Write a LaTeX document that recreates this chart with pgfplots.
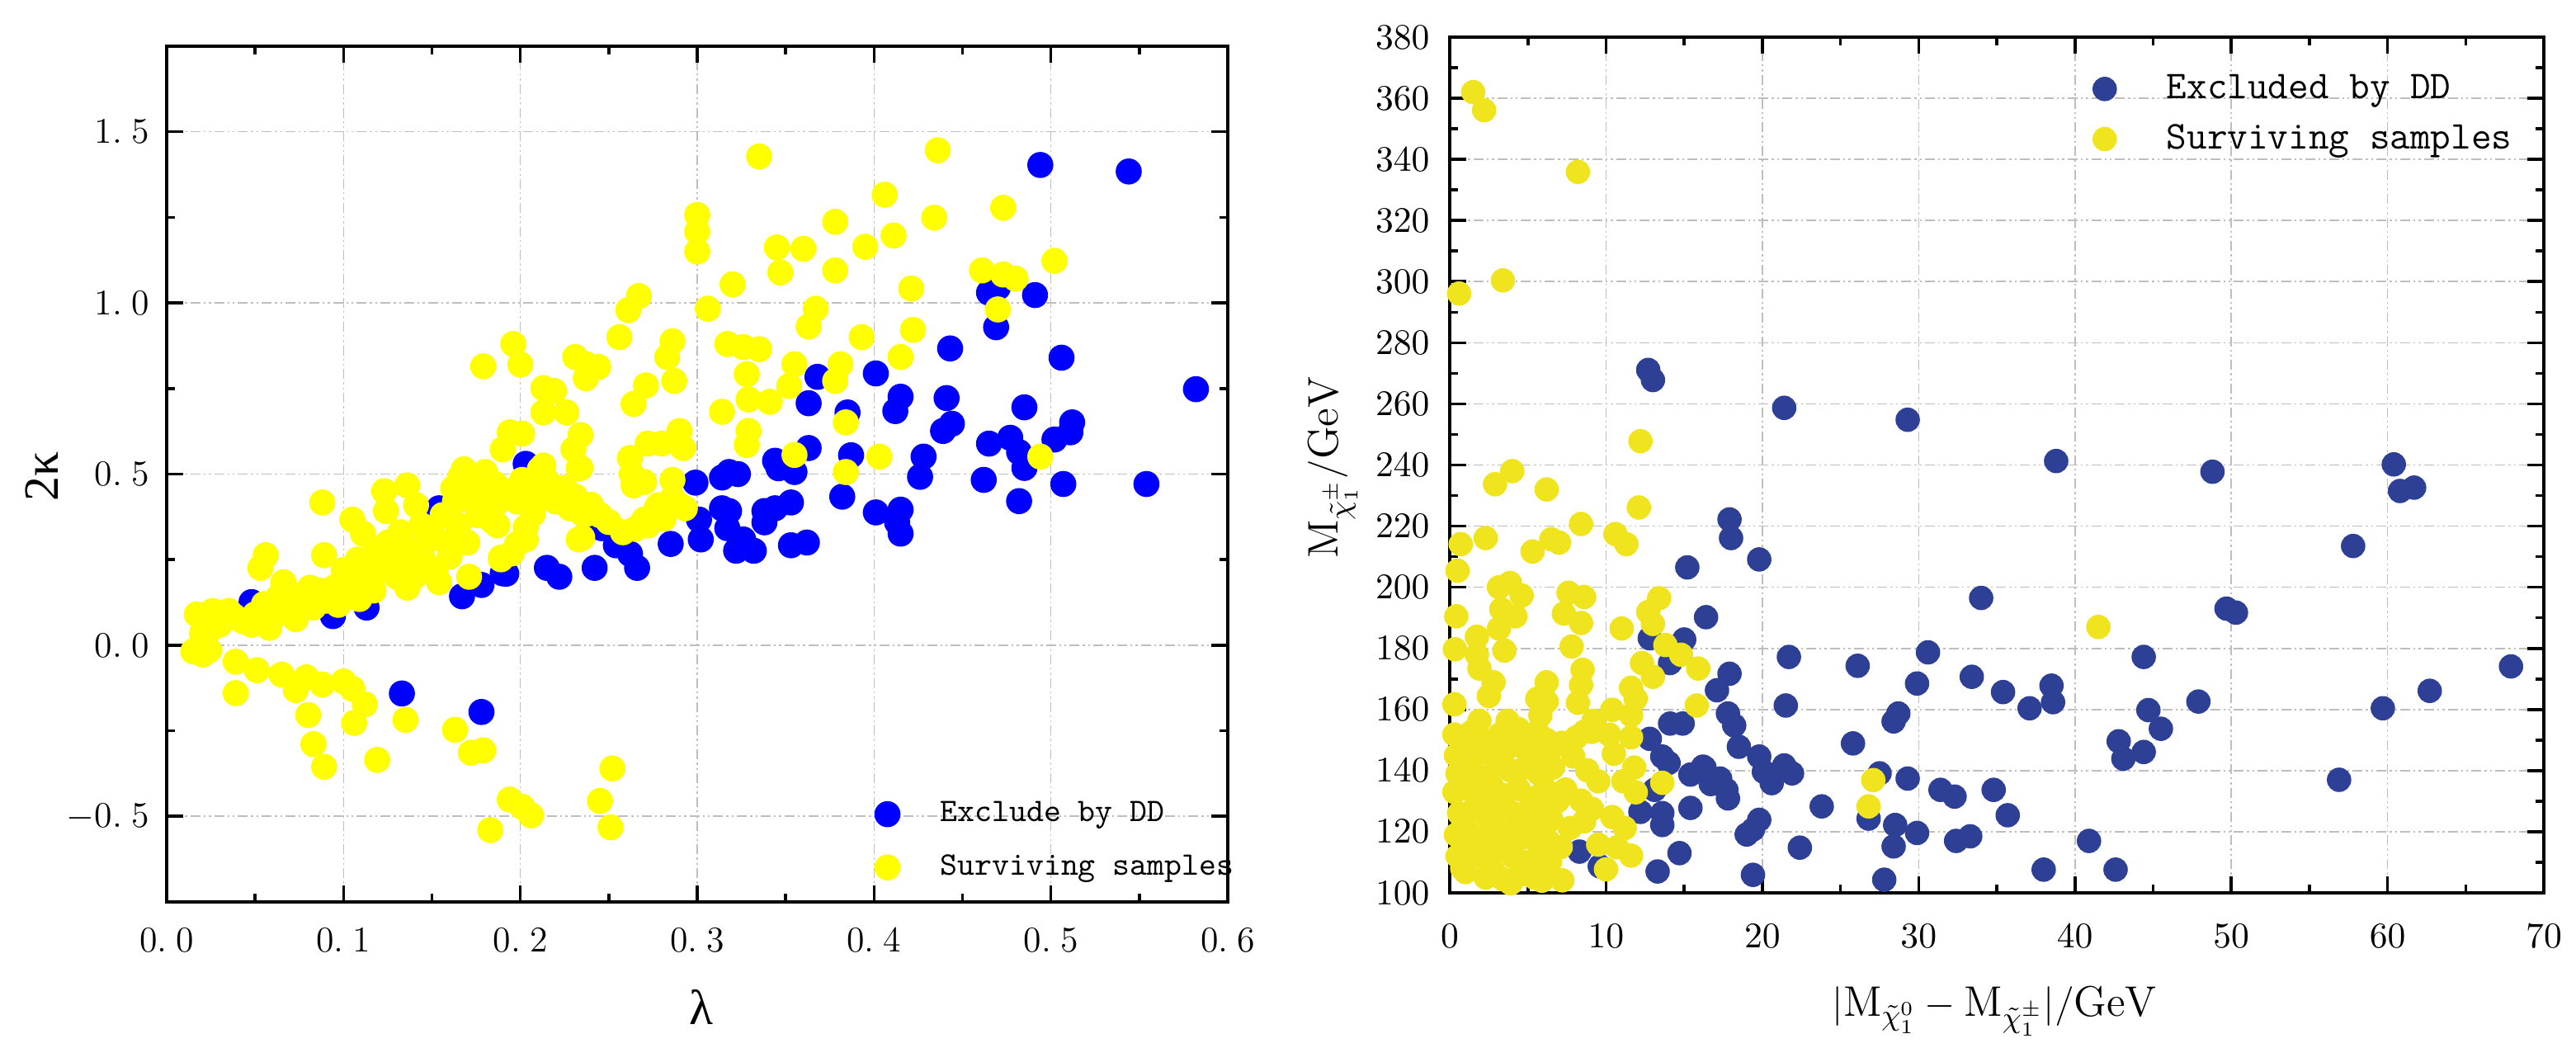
\documentclass[border=0pt]{standalone}
\usepackage{fontspec}
\newfontfamily\lserif{Liberation Serif}
\usepackage{pgfplots}
\pgfplotsset{compat=1.18}
\definecolor{lblue}{RGB}{0,0,255}
\definecolor{lyellow}{RGB}{255,255,0}
\definecolor{rblue}{RGB}{46,64,150}
\definecolor{ryellow}{RGB}{240,228,30}
\definecolor{gridgray}{RGB}{190,190,190}
\pgfplotsset{
 myaxis/.style={
  scale only axis,
  axis line style={line width=0.9bp},
  every tick/.style={black, line width=0.9bp},
  major tick length=5bp,
  minor tick length=2.5bp,
  tick align=inside,
  grid=major,
  major grid style={gridgray, line width=0.4bp, dash pattern=on 3bp off 1bp on 0.6bp off 1bp on 0.6bp off 1bp},
  minor tick num=1,
  tick label style={font=\fontsize{11}{13}\selectfont},
  legend cell align=left,
  legend image code/.code={\draw[##1] plot coordinates {(0bp,0bp)};},
 }
}
\begin{document}
\begin{tikzpicture}
\useasboundingbox (0,0) rectangle (780.5bp,317.5bp);
% ---------------- left panel ----------------
\begin{axis}[myaxis, at={(50.5bp,44.25bp)}, anchor=south west,
 width=321.5bp, height=259.25bp,
 xmin=0, xmax=0.6, ymin=-0.75, ymax=1.75,
 xtick={0,0.1,0.2,0.3,0.4,0.5,0.6},
 xticklabels={0.\hspace{0.25em}0,0.\hspace{0.25em}1,0.\hspace{0.25em}2,0.\hspace{0.25em}3,0.\hspace{0.25em}4,0.\hspace{0.25em}5,0.\hspace{0.25em}6},
 ytick={-0.5,0,0.5,1,1.5},
 yticklabels={$-$0.\hspace{0.25em}5,0.\hspace{0.25em}0,0.\hspace{0.25em}5,1.\hspace{0.25em}0,1.\hspace{0.25em}5},
 xticklabel style={yshift=-4.3bp}, yticklabel style={xshift=-1.8bp},
 xlabel={{\lserif λ}}, ylabel={{\lserif 2κ}},
 x label style={at={(axis description cs:0.504,-0.123)}, anchor=center, font=\fontsize{15}{17}\selectfont},
 y label style={at={(axis description cs:-0.118,0.497)}, anchor=center, font=\fontsize{15}{17}\selectfont},
 legend style={at={(axis description cs:0.667,0.0713)}, anchor=west, draw=none, fill=none,
   inner sep=0pt, row sep=8.5bp, font=\ttfamily\fontsize{10}{12}\selectfont,
   nodes={inner sep=0pt}, /tikz/every odd column/.append style={column sep=12.25bp}},
]
\addplot[only marks, mark=*, mark size=3.75bp, color=lblue] coordinates {
(0.494,1.403)(0.544,1.384)(0.465,1.030)(0.470,1.045)(0.491,1.023)(0.469,0.929)(0.443,0.867)(0.506,0.840)
(0.582,0.748)(0.401,0.794)(0.368,0.784)(0.363,0.707)(0.385,0.680)(0.415,0.726)(0.412,0.684)(0.441,0.722)
(0.485,0.695)(0.444,0.647)(0.439,0.626)(0.512,0.651)(0.511,0.622)(0.502,0.601)(0.465,0.589)(0.477,0.606)
(0.482,0.564)(0.485,0.518)(0.428,0.551)(0.387,0.555)(0.363,0.576)(0.345,0.531)(0.355,0.506)(0.318,0.506)
(0.462,0.483)(0.507,0.471)(0.554,0.471)(0.314,0.400)(0.318,0.392)(0.317,0.342)(0.326,0.309)(0.322,0.276)
(0.332,0.276)(0.338,0.392)(0.344,0.400)(0.353,0.417)(0.338,0.359)(0.353,0.292)(0.362,0.300)(0.346,0.517)
(0.382,0.434)(0.401,0.388)(0.415,0.396)(0.413,0.359)(0.415,0.326)(0.426,0.492)(0.482,0.421)(0.323,0.500)
(0.314,0.490)(0.344,0.539)(0.048,0.126)(0.094,0.085)(0.113,0.110)(0.154,0.400)(0.167,0.143)(0.178,0.176)
(0.190,0.210)(0.192,0.209)(0.215,0.226)(0.222,0.200)(0.242,0.226)(0.246,0.342)(0.254,0.292)(0.262,0.267)
(0.266,0.226)(0.285,0.296)(0.299,0.475)(0.301,0.367)(0.302,0.309)(0.203,0.530)(0.133,-0.141)(0.178,-0.195)
};
\addlegendentry{Exclude by DD}
\addplot[only marks, mark=*, mark size=3.75bp, color=lyellow] coordinates {
(0.335,1.428)(0.436,1.446)(0.406,1.316)(0.473,1.278)(0.434,1.249)(0.378,1.237)(0.345,1.162)(0.360,1.158)
(0.395,1.164)(0.411,1.197)(0.347,1.089)(0.378,1.095)(0.320,1.054)(0.421,1.042)(0.461,1.095)(0.473,1.083)
(0.480,1.071)(0.502,1.123)(0.306,0.983)(0.367,0.983)(0.363,0.931)(0.470,0.981)(0.317,0.880)(0.326,0.871)
(0.335,0.865)(0.393,0.900)(0.422,0.921)(0.355,0.821)(0.328,0.792)(0.381,0.821)(0.378,0.772)(0.415,0.842)
(0.352,0.757)(0.329,0.718)(0.341,0.711)(0.314,0.682)(0.384,0.651)(0.329,0.626)(0.328,0.585)(0.355,0.556)
(0.403,0.551)(0.494,0.551)(0.384,0.506)
(0.300,1.257)(0.300,1.208)(0.300,1.150)(0.267,1.020)(0.261,0.979)(0.256,0.900)(0.286,0.888)(0.283,0.842)
(0.196,0.880)(0.179,0.815)(0.200,0.820)(0.231,0.842)(0.237,0.821)(0.244,0.813)(0.237,0.780)(0.287,0.772)
(0.271,0.759)(0.264,0.705)(0.213,0.751)(0.219,0.743)(0.213,0.680)(0.226,0.680)(0.194,0.622)(0.201,0.618)
(0.190,0.572)(0.234,0.614)(0.230,0.572)(0.234,0.518)(0.290,0.626)(0.292,0.576)(0.272,0.589)(0.280,0.589)
(0.262,0.547)(0.168,0.514)(0.180,0.506)(0.211,0.514)
(0.270,0.367)(0.278,0.409)(0.286,0.483)(0.264,0.467)(0.290,0.409)(0.277,0.400)(0.286,0.430)(0.293,0.400)
(0.281,0.370)(0.272,0.350)(0.265,0.340)(0.258,0.330)(0.263,0.500)(0.270,0.477)
(0.237,0.383)(0.235,0.314)(0.225,0.441)(0.207,0.383)(0.203,0.344)(0.198,0.295)(0.189,0.256)(0.184,0.363)(0.186,0.412)
(0.0204,-0.027)(0.024,-0.015)(0.015,-0.018)(0.023,0.085)(0.020,0.035)(0.024,0.043)(0.017,0.090)(0.026,0.100)
(0.038,0.085)(0.048,0.060)(0.058,0.051)(0.066,0.184)(0.075,0.118)(0.081,0.168)(0.073,0.076)(0.088,0.417)
(0.089,0.263)(0.056,0.263)(0.053,0.226)(0.106,0.209)(0.105,0.367)(0.111,0.326)(0.123,0.450)(0.136,0.467)
(0.124,0.392)(0.141,0.409)(0.146,0.300)(0.144,0.350)(0.128,0.263)(0.136,0.243)(0.136,0.168)(0.097,0.118)
(0.109,0.135)(0.117,0.160)(0.160,0.259)(0.154,0.184)(0.166,0.492)(0.162,0.458)(0.171,0.200)(0.182,0.483)
(0.175,0.409)(0.187,0.350)(0.201,0.483)(0.207,0.400)(0.213,0.525)(0.203,0.309)(0.189,0.251)(0.195,0.268)
(0.231,0.434)(0.235,0.384)(0.233,0.309)(0.233,0.517)
(0.030,0.060)(0.035,0.100)(0.043,0.070)(0.050,0.090)(0.055,0.120)(0.060,0.080)(0.063,0.140)(0.068,0.100)
(0.070,0.150)(0.078,0.130)(0.083,0.110)(0.086,0.160)(0.090,0.130)(0.095,0.170)(0.100,0.220)(0.102,0.140)
(0.108,0.250)(0.113,0.200)(0.118,0.280)(0.120,0.220)(0.125,0.300)(0.130,0.200)(0.132,0.330)(0.138,0.280)
(0.140,0.200)(0.145,0.250)(0.150,0.330)(0.152,0.220)(0.156,0.380)(0.158,0.300)(0.163,0.420)(0.165,0.350)
(0.168,0.440)(0.170,0.300)(0.173,0.460)(0.176,0.380)(0.180,0.440)(0.183,0.420)(0.186,0.470)(0.190,0.440)
(0.194,0.450)(0.198,0.420)(0.205,0.460)(0.210,0.440)(0.215,0.480)(0.220,0.420)(0.225,0.460)(0.228,0.400)
(0.240,0.410)(0.245,0.380)(0.250,0.360)
(0.039,-0.048)(0.039,-0.140)(0.051,-0.073)(0.065,-0.086)(0.073,-0.131)(0.079,-0.094)(0.088,-0.115)(0.100,-0.106)
(0.105,-0.127)(0.112,-0.173)(0.106,-0.227)(0.080,-0.204)(0.083,-0.289)(0.089,-0.355)(0.119,-0.335)(0.135,-0.218)
(0.163,-0.247)(0.172,-0.314)(0.179,-0.307)(0.194,-0.451)(0.201,-0.472)(0.206,-0.497)(0.183,-0.540)(0.252,-0.360)
(0.245,-0.455)(0.251,-0.532)
};
\addlegendentry{Surviving samples}
\end{axis}
% ---------------- right panel ----------------
\begin{axis}[myaxis, at={(439.25bp,47bp)}, anchor=south west,
 width=331.5bp, height=259.25bp,
 xmin=0, xmax=70, ymin=100, ymax=380,
 xtick distance=10, ytick distance=20,
 xticklabel style={yshift=-6bp}, yticklabel style={xshift=-2.6bp},
 xlabel={$\big|\mathrm{M}_{\tilde{\chi}^{0}_{1}}-\mathrm{M}_{\tilde{\chi}^{\pm}_{1}}\big|/\mathrm{GeV}$},
 ylabel={$\mathrm{M}_{\tilde{\chi}^{\pm}_{1}}/\mathrm{GeV}$},
 x label style={at={(axis description cs:0.498,-0.138)}, anchor=center, font=\fontsize{13}{15}\selectfont},
 y label style={at={(axis description cs:-0.107,0.497)}, anchor=center, font=\fontsize{13}{15}\selectfont},
 legend style={at={(axis description cs:0.5875,0.910)}, anchor=west, draw=none, fill=none,
   inner sep=0pt, row sep=6.3bp, font=\ttfamily\fontsize{12}{14}\selectfont,
   nodes={inner sep=0pt}, /tikz/every odd column/.append style={column sep=15.25bp}},
]
\addplot[only marks, mark=*, mark size=3.5bp, color=rblue] coordinates {
(12.7,271.1)(13.0,267.8)(21.4,258.7)(29.3,254.8)(38.8,241.3)(48.8,237.8)(60.4,240.2)(60.8,231.5)
(61.7,232.6)(57.8,213.5)(17.9,222.2)(18.0,216.1)(19.8,209.1)(15.2,206.5)(34.0,196.5)(49.7,193.0)
(50.3,191.7)(16.4,190.2)(12.8,183.3)(15.0,182.9)(14.1,175.2)(21.7,177.2)(26.1,174.3)(30.6,178.7)
(44.4,177.2)(67.9,174.1)(17.9,171.7)(33.4,170.7)(29.9,168.5)(38.5,167.8)(35.4,165.7)(62.7,166.1)
(17.1,166.3)(38.6,162.4)(47.9,162.6)(21.5,161.3)(37.1,160.4)(59.7,160.4)(44.7,159.8)(28.7,158.7)
(28.4,156.1)(17.8,158.7)(45.5,153.7)(14.1,155.4)(14.9,155.4)(18.2,154.8)(12.8,150.4)(42.8,149.6)
(25.8,148.9)(18.5,147.8)(44.4,146.1)(13.6,144.6)(14.0,142.5)(19.8,144.6)(43.1,143.9)(21.4,141.7)
(16.2,141.3)(20.1,139.6)(21.9,139.1)(27.5,139.1)(15.4,138.7)(17.3,137.4)(29.3,137.4)(56.9,137.0)
(20.6,135.9)(13.1,133.7)(17.7,133.7)(17.8,130.9)(31.4,133.7)(32.3,131.5)(34.8,133.7)(23.8,128.3)
(15.4,127.8)(12.2,126.5)(13.6,126.1)(13.6,122.2)(35.7,125.4)(26.8,124.3)(19.8,123.9)(19.4,120.7)
(19.0,119.1)(28.5,122.2)(29.9,119.6)(32.4,117.0)(33.3,118.5)(40.9,117.0)(22.4,114.8)(28.4,115.2)
(8.3,113.5)(14.7,113.0)(9.6,108.7)(13.3,107.0)(19.4,105.9)(27.8,104.3)(38.0,107.6)(42.6,107.6)
(16.3,141.0)(16.7,135.6)
};
\addlegendentry{Excluded by DD}
\addplot[only marks, mark=*, mark size=3.5bp, color=ryellow] coordinates {
(1.5,362.0)(2.2,356.1)(8.2,335.9)(3.4,300.4)(0.6,296.1)(12.2,247.8)(4.0,238.0)(2.9,233.7)
(6.2,232.0)(12.1,226.1)(8.4,220.7)(2.3,216.1)(0.7,214.1)(6.5,215.7)(7.0,214.6)(5.3,211.7)
(10.6,217.4)(11.3,214.1)(0.5,205.4)(41.5,187.0)(27.1,136.9)(26.8,128.3)
(3.15,200.0)(3.85,201.4)(4.6,197.3)(0.42,190.5)(3.3,192.8)(4.2,190.5)(3.15,186.5)(1.74,183.8)
(0.33,179.7)(1.74,177.9)(1.9,173.4)(3.5,179.3)(7.6,198.2)(8.6,196.8)(7.3,191.4)(8.4,188.3)
(7.8,180.6)(11.0,186.5)(13.4,196.4)(12.7,191.9)(13.0,188.0)(13.8,181.1)(14.8,177.9)(12.3,175.2)
(15.9,173.4)(13.0,170.7)(8.5,173.0)(8.4,168.0)(6.2,168.9)(2.8,168.9)(2.5,164.4)(5.6,163.5)
(6.2,162.6)(8.2,162.2)(11.6,167.1)(11.9,163.5)(0.3,161.7)(15.8,161.3)(10.4,159.9)(9.2,156.3)
(11.6,158.1)(1.9,156.3)(1.4,152.7)(3.7,156.3)(4.4,153.6)(5.8,158.1)(5.6,152.7)(0.3,151.8)
(8.6,152.7)(10.2,151.8)(11.6,150.9)(7.2,149.1)
(1.7,153.6)(3.2,151.8)(4.2,153.6)(6.5,147.3)(8.1,150.9)(9.1,152.7)(7.9,144.6)(8.8,140.1)
(9.5,136.5)(10.5,145.5)(11.8,141.0)(11.1,136.5)(11.9,132.9)(13.6,136.0)(7.4,133.8)(8.4,130.2)
(9.1,127.5)(10.4,124.8)(11.2,121.2)(8.6,123.4)(7.7,121.2)(9.5,115.8)(10.7,114.9)(11.6,112.2)
(10.0,107.7)(7.2,104.1)(3.9,103.1)(5.4,105.0)(1.0,106.8)(2.3,105.0)
(0.4,145)(1.2,148)(2.1,146)(2.8,149)(3.6,147)(4.6,148)(5.5,146)(6.2,150)
(0.5,139)(1.3,141)(2.2,138)(3.0,142)(3.9,140)(4.8,141)(5.7,139)(6.6,141)
(0.3,133)(1.1,134)(1.9,131)(2.7,135)(3.5,132)(4.4,134)(5.2,131)(6.1,134)(6.9,130)
(0.6,126)(1.5,127)(2.4,125)(3.2,128)(4.1,126)(4.9,124)(5.8,127)(6.5,124)
(0.4,119)(1.2,120)(2.0,118)(2.9,121)(3.7,119)(4.6,118)(5.5,120)(6.3,117)(7.1,115)
(0.5,112)(1.4,113)(2.3,111)(3.1,114)(4.0,112)(4.8,110)(5.7,113)(6.4,110)
(0.8,108)(2.8,107)(4.5,106)(6.0,107)(3.4,104.5)(5.9,104)
};
\addlegendentry{Surviving samples}
\end{axis}
\end{tikzpicture}
\end{document}
